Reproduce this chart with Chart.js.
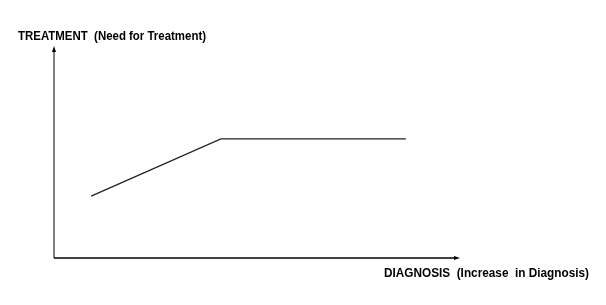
<!DOCTYPE html>
<html>
<head>
<meta charset="utf-8">
<script src="https://cdn.jsdelivr.net/npm/chart.js@4/dist/chart.umd.min.js"></script>
<style>
html,body{margin:0;padding:0;background:#fff;}
#wrap{width:606px;height:305px;}
</style>
</head>
<body>
<div id="wrap"><canvas id="c" width="606" height="305"></canvas></div>
<script>
// diagnosis (x) and need for treatment (y), 0-100 arbitrary units
const diagnosis=[9.2,41.3,87.1];
const treatment=[29.5,56.7,56.7];
const yTitle='TREATMENT  (Need for Treatment)';
const xTitle='DIAGNOSIS  (Increase  in Diagnosis)';

const axesPlugin={
  id:'axesPlugin',
  afterDraw(chart){
    const ctx=chart.ctx,a=chart.chartArea;
    ctx.save();
    // y axis
    ctx.strokeStyle='#555';ctx.lineWidth=1.5;
    ctx.beginPath();ctx.moveTo(a.left,a.bottom);ctx.lineTo(a.left,a.top+2);ctx.stroke();
    ctx.fillStyle='#000';
    ctx.beginPath();ctx.moveTo(a.left,a.top-2);ctx.lineTo(a.left-2,a.top+4);ctx.lineTo(a.left+2,a.top+4);ctx.closePath();ctx.fill();
    // x axis
    ctx.strokeStyle='#000';ctx.lineWidth=1.5;
    ctx.beginPath();ctx.moveTo(a.left,a.bottom);ctx.lineTo(a.right-2,a.bottom);ctx.stroke();
    ctx.beginPath();ctx.moveTo(a.right+2,a.bottom);ctx.lineTo(a.right-4,a.bottom-2);ctx.lineTo(a.right-4,a.bottom+2);ctx.closePath();ctx.fill();
    // titles
    ctx.font='bold 12px "Liberation Sans", Arial, sans-serif';
    ctx.textBaseline='middle';ctx.textAlign='left';
    ctx.fillText(yTitle,18,37,188);
    ctx.fillText(xTitle,384,274,205);
    ctx.restore();
  }
};

new Chart(document.getElementById('c').getContext('2d'),{
  type:'scatter',
  data:{datasets:[{
    data:diagnosis.map((x,i)=>({x:x,y:treatment[i]})),
    showLine:true,borderColor:'#222',borderWidth:1.3,pointRadius:0,tension:0,fill:false
  }]},
  options:{
    responsive:false,animation:false,
    layout:{padding:{left:54,top:48,right:148,bottom:47}},
    plugins:{legend:{display:false},tooltip:{enabled:false}},
    scales:{
      x:{type:'linear',min:0,max:100,display:false},
      y:{type:'linear',min:0,max:100,display:false}
    }
  },
  plugins:[axesPlugin]
});
</script>
</body>
</html>
